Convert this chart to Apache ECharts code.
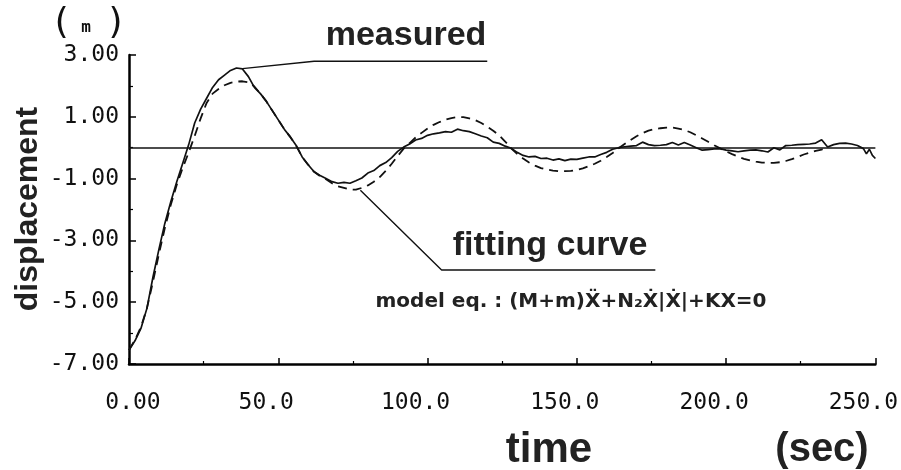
<!DOCTYPE html>
<html>
<head>
<meta charset="utf-8">
<script src="https://cdn.jsdelivr.net/npm/echarts@6/dist/echarts.min.js"></script>
<style>
html,body{margin:0;padding:0;background:#fff;}
#chart{width:901px;height:470px;}
</style>
</head>
<body>
<div id="chart"></div>
<script>
// time (sec)
const time = [0,2,4,6,8,10,12,14,16,18,20,22,24,26,28,30,32,34,36,38,40,42,44,46,48,50,52,54,56,58,60,62,64,66,68,70,72,74,76,78,80,82,84,86,88,90,92,94,96,98,100,102,104,106,108,110,112,114,116,118,120,122,124,126,128,130,132,134,136,138,140,142,144,146,148,150,152,154,156,158,160,162,164,166,168,170,172,174,176,178,180,182,184,186,188,190,192,194,196,198,200,202,204,206,208,210,212,214,216,218,220,222,224,226,228,230,232,234,236,238,240,242,244,246,247,248,249,250];

// measured displacement (m)
const measured = [-6.55,-6.25,-5.85,-5.2,-4.2,-3.3,-2.45,-1.75,-1.1,-0.5,0.1,0.8,1.25,1.6,1.95,2.2,2.35,2.5,2.58,2.55,2.3,1.95,1.75,1.5,1.2,0.9,0.6,0.35,0.07,-0.3,-0.55,-0.78,-0.9,-1.0,-1.1,-1.15,-1.12,-1.15,-1.07,-0.98,-0.82,-0.74,-0.58,-0.48,-0.32,-0.12,0.02,0.12,0.25,0.3,0.4,0.45,0.48,0.52,0.5,0.6,0.55,0.52,0.45,0.38,0.32,0.18,0.14,0.05,-0.02,-0.15,-0.25,-0.3,-0.28,-0.35,-0.34,-0.4,-0.36,-0.42,-0.37,-0.38,-0.34,-0.3,-0.3,-0.22,-0.15,-0.05,0.0,0.03,0.05,0.07,0.18,0.1,0.07,0.08,0.1,0.17,0.09,0.17,0.09,0.0,-0.08,-0.06,-0.04,-0.03,-0.08,-0.1,-0.13,-0.1,-0.08,-0.07,-0.1,-0.14,0.0,-0.07,0.07,0.08,0.1,0.11,0.12,0.15,0.26,0.02,0.1,0.14,0.15,0.12,0.07,-0.03,-0.2,-0.05,-0.25,-0.35];

// fitting curve (model eq.)
const fitting = [-6.55,-6.22,-5.8,-5.2,-4.35,-3.45,-2.6,-1.85,-1.2,-0.65,-0.15,0.38,0.95,1.45,1.75,1.9,2.02,2.1,2.14,2.15,2.12,1.98,1.75,1.5,1.2,0.9,0.6,0.35,0.07,-0.3,-0.55,-0.78,-0.92,-1.02,-1.15,-1.25,-1.3,-1.35,-1.36,-1.3,-1.22,-1.1,-0.95,-0.75,-0.52,-0.27,-0.03,0.15,0.33,0.48,0.62,0.74,0.83,0.91,0.96,0.99,0.99,0.95,0.89,0.8,0.68,0.55,0.4,0.2,-0.02,-0.2,-0.35,-0.48,-0.58,-0.66,-0.71,-0.74,-0.76,-0.76,-0.75,-0.72,-0.67,-0.6,-0.52,-0.42,-0.3,-0.17,-0.02,0.12,0.25,0.37,0.47,0.55,0.6,0.63,0.65,0.65,0.62,0.57,0.5,0.4,0.3,0.19,0.08,-0.02,-0.12,-0.21,-0.29,-0.36,-0.41,-0.45,-0.48,-0.49,-0.49,-0.47,-0.43,-0.37,-0.3,-0.22,-0.16,-0.1,-0.06,0.0,null,null,null,null,null,null,null,null,null,null];

const xTicks = [0, 50, 100, 150, 200, 250];
const yTicks = [-7, -5, -3, -1, 1, 3];

const measuredData = time.map((t, i) => [t, measured[i]]);
const fittingData = time.map((t, i) => [t, fitting[i]]);

const chart = echarts.init(document.getElementById('chart'), null, {renderer: 'canvas'});
const monoFont = '"DejaVu Sans Mono", "Liberation Mono", monospace';
const boldFont = '"Liberation Sans", Arial, sans-serif';

const option = {
  animation: false,
  backgroundColor: '#ffffff',
  grid: {left: 129, right: 23, top: 55, bottom: 106, containLabel: false},
  xAxis: {
    type: 'value', min: xTicks[0], max: xTicks[xTicks.length - 1], interval: 50,
    axisLine: {show: true, onZero: false, lineStyle: {color: '#000', width: 2.5}},
    axisTick: {show: true, inside: true, length: 6, lineStyle: {color: '#000', width: 1.5}},
    minorTick: {show: true, splitNumber: 2, length: 3, lineStyle: {color: '#000', width: 1.2}},
    splitLine: {show: false},
    axisLabel: {
      margin: 28,
      formatter: v => v === 0 ? '{a|0.00}' : '{b|' + v.toFixed(1) + '}',
      rich: {
        a: {fontFamily: monoFont, fontSize: 23, color: '#111', padding: [0, 0, 0, 8]},
        b: {fontFamily: monoFont, fontSize: 23, color: '#111', padding: [0, 24, 0, 0]}
      }
    }
  },
  yAxis: {
    type: 'value', min: yTicks[0], max: yTicks[yTicks.length - 1], interval: 2,
    axisLine: {show: true, onZero: false, lineStyle: {color: '#000', width: 2.5}},
    axisTick: {show: true, inside: true, length: 7, lineStyle: {color: '#000', width: 1.5}},
    minorTick: {show: true, splitNumber: 2, length: 4, lineStyle: {color: '#000', width: 1.2}},
    splitLine: {show: false},
    axisLabel: {
      margin: 10,
      fontFamily: monoFont, fontSize: 23, color: '#111',
      padding: [4, 0, 0, 0],
      formatter: v => v.toFixed(2)
    }
  },
  series: [
    {
      name: 'fitting curve', type: 'line', data: fittingData, showSymbol: false, symbol: 'none',
      connectNulls: false, silent: true,
      lineStyle: {color: '#111', width: 1.8, type: [9, 6]}
    },
    {
      name: 'measured', type: 'line', data: measuredData, showSymbol: false, symbol: 'none',
      silent: true,
      lineStyle: {color: '#111', width: 1.7},
      markLine: {
        silent: true, symbol: ['none', 'none'], label: {show: false},
        lineStyle: {color: '#111', width: 1.6, type: 'solid'},
        data: [{yAxis: 0}]
      }
    },
    {
      name: 'leader measured', type: 'line', showSymbol: false, symbol: 'none', silent: true,
      data: [[38, 2.56], [62, 2.8], [120, 2.8]],
      lineStyle: {color: '#111', width: 1.4}
    },
    {
      name: 'leader fitting', type: 'line', showSymbol: false, symbol: 'none', silent: true,
      data: [[77.5, -1.38], [104.7, -3.96], [176.3, -3.96]],
      lineStyle: {color: '#111', width: 1.4}
    }
  ],
  graphic: [
    {type: 'text', x: 406, y: 35.5, silent: true,
     style: {text: 'measured', font: 'bold 34px ' + boldFont, fill: '#222', align: 'center', verticalAlign: 'middle'}},
    {type: 'text', x: 550, y: 245.5, silent: true,
     style: {text: 'fitting curve', font: 'bold 34px ' + boldFont, fill: '#222', align: 'center', verticalAlign: 'middle'}},
    {type: 'text', x: 571, y: 302, silent: true,
     style: {text: 'model eq. : (M+m)\u1E8C+N\u2082\u1E8A|\u1E8A|+KX=0', font: 'bold 20px "DejaVu Sans", sans-serif', fill: '#222', align: 'center', verticalAlign: 'middle'}},
    {type: 'text', x: 549, y: 450, silent: true,
     style: {text: 'time', font: 'bold 42px ' + boldFont, fill: '#222', align: 'center', verticalAlign: 'middle'}},
    {type: 'text', x: 822, y: 450, silent: true,
     style: {text: '(sec)', font: 'bold 40px ' + boldFont, fill: '#222', align: 'center', verticalAlign: 'middle'}},
    {type: 'text', x: 28, y: 209, rotation: Math.PI / 2, silent: true,
     style: {text: 'displacement', font: 'bold 32px ' + boldFont, fill: '#222', align: 'center', verticalAlign: 'middle'}},
    {type: 'text', x: 61, y: 24, silent: true,
     style: {text: '(', font: '36px ' + monoFont, fill: '#111', align: 'center', verticalAlign: 'middle'}},
    {type: 'text', x: 86, y: 28, silent: true,
     style: {text: 'm', font: 'bold 16px ' + monoFont, fill: '#111', align: 'center', verticalAlign: 'middle'}},
    {type: 'text', x: 116, y: 24, silent: true,
     style: {text: ')', font: '36px ' + monoFont, fill: '#111', align: 'center', verticalAlign: 'middle'}}
  ]
};
chart.setOption(option);
</script>
</body>
</html>
